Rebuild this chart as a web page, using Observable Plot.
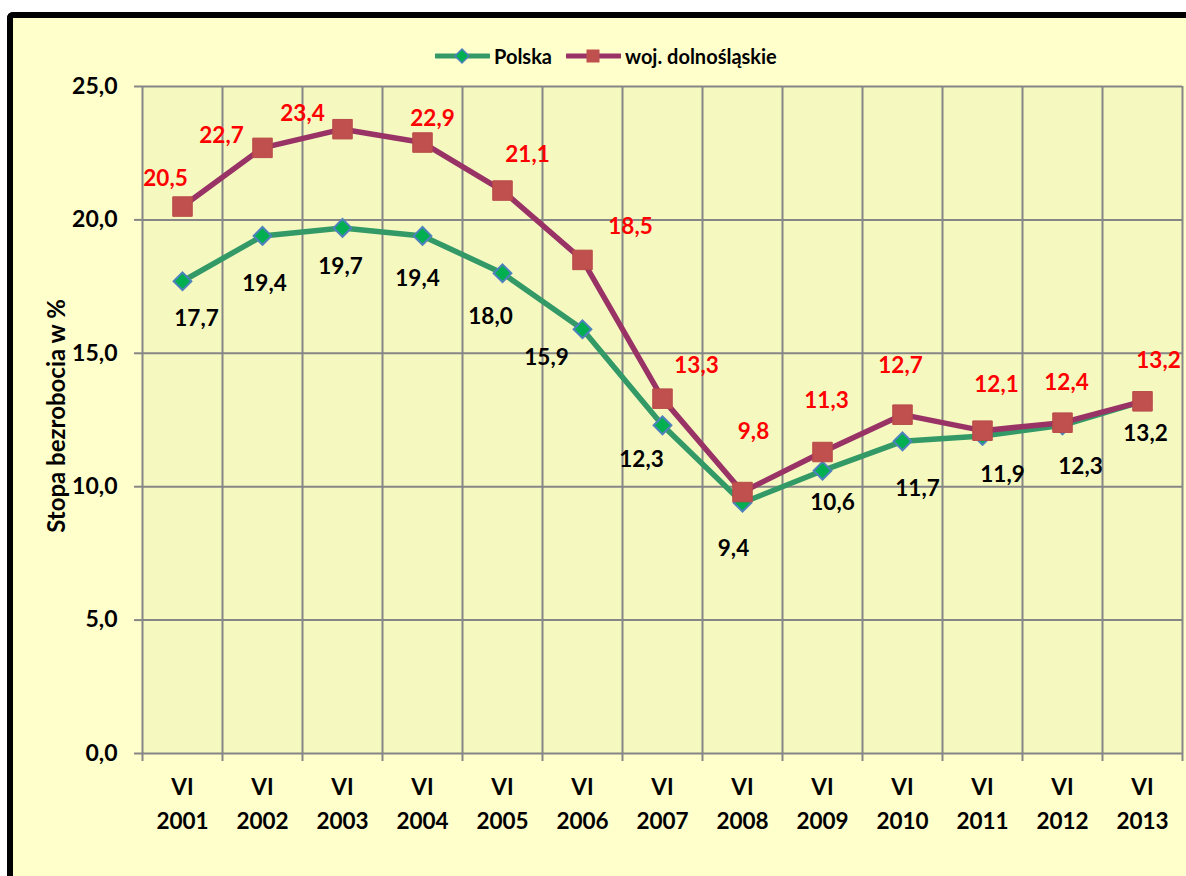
<!DOCTYPE html>
<html>
<head>
<meta charset="utf-8">
<script src="https://cdn.jsdelivr.net/npm/d3@7"></script>
<script src="https://cdn.jsdelivr.net/npm/@observablehq/plot@0.6"></script>
<style>
  html, body { margin: 0; padding: 0; background: #ffffff; }
  #wrap { position: relative; width: 1186px; height: 876px; overflow: hidden; font-family: Lato, "Open Sans", sans-serif; }
  #frame { position: absolute; left: 7px; top: 12px; width: 1250px; height: 950px;
           border-left: 6px solid #000; border-top: 6px solid #000; border-top-left-radius: 6px;
           background: #FFFFCC; }
  #chart { position: absolute; left: 0; top: 0; }
  #legend { position: absolute; left: 435px; top: 44px; display: flex; align-items: center;
            font-family: Lato, sans-serif; font-weight: 700; font-size: 20px; color: #000; }
  #legend .item { display: flex; align-items: center; margin-right: 14px; }
  #legend svg { margin-right: 4px; }
</style>
</head>
<body>
<div id="wrap">
  <div id="frame"></div>
  <div id="chart"></div>
  <div id="legend"></div>
</div>
<script>
// ---- data ----
const month = "VI";
const years = ["2001","2002","2003","2004","2005","2006","2007","2008","2009","2010","2011","2012","2013"];
const polska = [17.7, 19.4, 19.7, 19.4, 18.0, 15.9, 12.3, 9.4, 10.6, 11.7, 11.9, 12.3, 13.2];
const dolnoslaskie = [20.5, 22.7, 23.4, 22.9, 21.1, 18.5, 13.3, 9.8, 11.3, 12.7, 12.1, 12.4, 13.2];
const yTicks = [0, 5, 10, 15, 20, 25];
const seriesNames = ["Polska", "woj. dolnośląskie"];
const yTitle = "Stopa bezrobocia w %";

// label nudges (pixels) for the data labels, as placed in the original
const dolnoLabelDx = [-17, -41, -40, 10, 25, 48, 34, 11, 4, -2, 14, 4, 16];
const dolnoLabelDy = [-28, -12, -15, -24, -36, -33, -33, -60, -51, -49, -46, -40, -41];
const polskaLabelDx = [14, 2, -2, -5, -12, -36, -21, -9, 10, 15, 20, 18, 3];
const polskaLabelDy = [38, 48, 39, 43, 44, 29, 34, 46, 32, 47, 39, 41, 32];

// ---- styles ----
const green = "#339966", purple = "#993366", squareFill = "#C0504D";
const diamondFill = "#00B050", diamondStroke = "#4F81BD";
const grid = "#868686";
const fmt = v => v.toFixed(1).replace(".", ",");

const n = years.length;
const pData = polska.map((v, i) => ({i: i + 0.5, v}));
const dData = dolnoslaskie.map((v, i) => ({i: i + 0.5, v}));
const boundaries = d3.range(0, n + 1);
const centers = d3.range(n).map(i => i + 0.5);

const labelMarks = [];
dData.forEach((d, k) => labelMarks.push(Plot.text([d], {
  x: "i", y: "v", text: d => fmt(d.v), dx: dolnoLabelDx[k], dy: dolnoLabelDy[k],
  fill: "#FF0000", fontSize: 22.5, fontWeight: 700, textAnchor: "middle", lineAnchor: "middle"
})));
pData.forEach((d, k) => labelMarks.push(Plot.text([d], {
  x: "i", y: "v", text: d => fmt(d.v), dx: polskaLabelDx[k], dy: polskaLabelDy[k],
  fill: "#000", fontSize: 22.5, fontWeight: 700, textAnchor: "middle", lineAnchor: "middle"
})));

const chart = Plot.plot({
  width: 1186,
  height: 876,
  marginLeft: 142,
  marginRight: 4,
  marginTop: 86,
  marginBottom: 123,
  style: {background: "transparent", fontFamily: "Lato, 'Open Sans', sans-serif", overflow: "visible"},
  x: {type: "linear", domain: [0, n]},
  y: {type: "linear", domain: [0, 25]},
  marks: [
    Plot.frame({fill: "#F5F9C0", stroke: null}),
    Plot.ruleY(yTicks, {stroke: grid, strokeWidth: 2}),
    Plot.ruleX(boundaries, {stroke: grid, strokeWidth: 2}),
    Plot.axisY({ticks: yTicks, tickFormat: fmt, tickSize: 8, tickPadding: 17, stroke: grid, strokeWidth: 2,
                fontSize: 23, fontWeight: 700, fill: "#000", label: null}),
    Plot.axisX({ticks: boundaries, tickFormat: () => "", tickSize: 8, stroke: grid, strokeWidth: 2, label: null}),
    Plot.axisX({ticks: centers, tickFormat: t => `${month}\n${years[Math.floor(t)]}`, tickSize: 0, tickPadding: 18,
                lineHeight: 1.5, fontSize: 22.5, fontWeight: 700, fill: "#000", label: null}),
    Plot.text([yTitle], {frameAnchor: "left", text: d => d, rotate: -90, dx: -85, dy: -4,
                fontSize: 24, fontWeight: 700, fill: "#000", textAnchor: "middle", lineAnchor: "middle"}),
    Plot.line(pData, {x: "i", y: "v", stroke: green, strokeWidth: 5.5}),
    Plot.dot(pData, {x: "i", y: "v", symbol: "diamond2", r: 8, fill: diamondFill, stroke: diamondStroke, strokeWidth: 2}),
    Plot.line(dData, {x: "i", y: "v", stroke: purple, strokeWidth: 5.5}),
    Plot.dot(dData, {x: "i", y: "v", symbol: "square", r: 11, fill: squareFill, stroke: "#B84A47", strokeWidth: 1}),
    ...labelMarks
  ]
});
document.getElementById("chart").appendChild(chart);

// ---- legend ----
const legend = document.getElementById("legend");
const swatches = [
  {name: seriesNames[0], stroke: green, marker: `<path d="M27,2 L34,9 L27,16 L20,9 Z" fill="${diamondFill}" stroke="${diamondStroke}" stroke-width="1.5"/>`},
  {name: seriesNames[1], stroke: purple, marker: `<rect x="20.5" y="2.5" width="13" height="13" fill="${squareFill}"/>`}
];
swatches.forEach(s => {
  const item = document.createElement("div");
  item.className = "item";
  item.innerHTML = `<svg width="55" height="18" viewBox="0 0 55 18"><line x1="1" y1="9" x2="54" y2="9" stroke="${s.stroke}" stroke-width="5" stroke-linecap="round"/>${s.marker}</svg><span>${s.name}</span>`;
  legend.appendChild(item);
});
</script>
</body>
</html>
